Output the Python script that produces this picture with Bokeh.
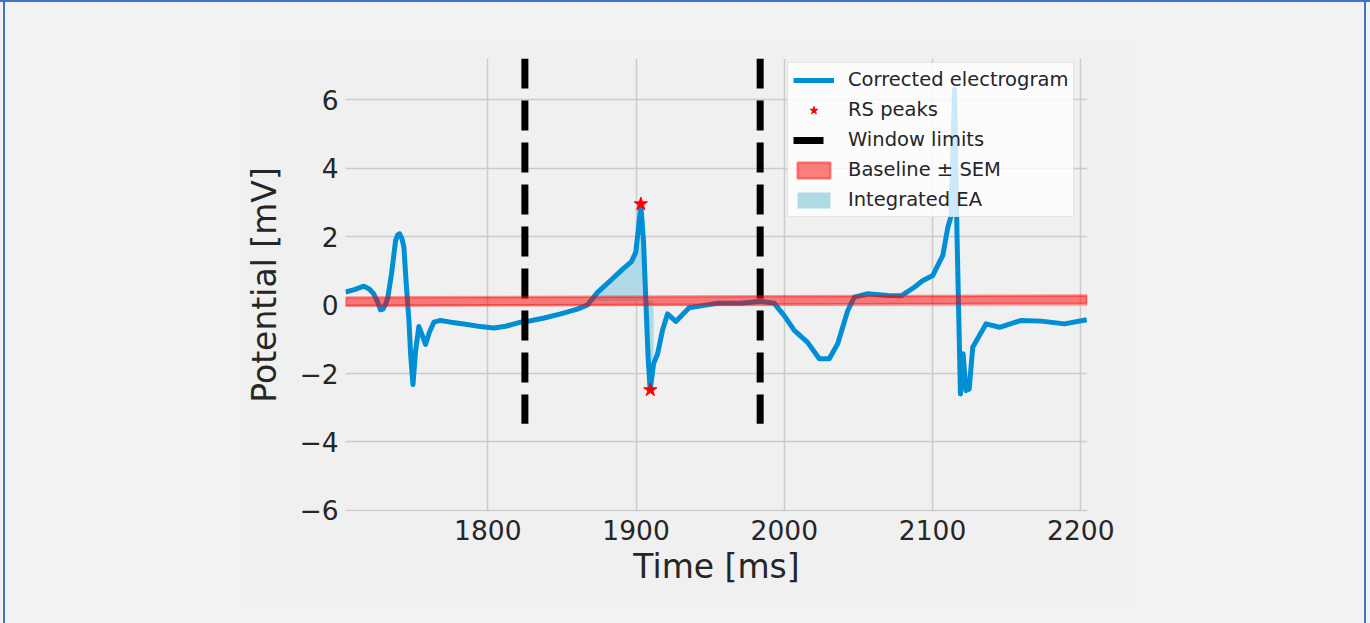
import numpy as np
from bokeh.plotting import figure
from bokeh.models import Range1d, FixedTicker, Legend, LegendItem
from bokeh.embed import file_html
from bokeh.resources import INLINE

# ---- data ----
time_ms = [1704, 1710, 1716.4, 1720, 1723, 1725.5, 1727.6, 1729.2, 1730.8, 1732.5,
           1735, 1737.8, 1739.2, 1740.5, 1742, 1743.4, 1745, 1746.8, 1747.9, 1749.5,
           1751.3, 1753.5, 1755.5, 1758, 1760.5, 1763.6, 1768.1, 1775, 1786.2, 1795,
           1804.1, 1812, 1822.2, 1828.9, 1838, 1849.2, 1860.4, 1867.2, 1874, 1882.9,
           1890.8, 1896.9, 1899.8, 1901.4, 1903.2, 1905, 1906.6, 1908.1, 1909.5, 1911.8,
           1914.5, 1917.8, 1921.2, 1926.8, 1935.8, 1946, 1955, 1970.7, 1984.2, 1993.2,
           1999.9, 2006.7, 2015.7, 2023.6, 2030.3, 2036, 2042.8, 2047.2, 2056.3, 2069.8,
           2078.8, 2087.7, 2093, 2100.1, 2106.9, 2110.3, 2112.5, 2114.8, 2116.5, 2118.8,
           2120.6, 2122.5, 2124.7, 2127.1, 2136.1, 2145.1, 2159.8, 2173.3, 2189, 2204]
potential_mv = [0.38, 0.45, 0.55, 0.47, 0.33, 0.1, -0.14, -0.12, 0.0, 0.2,
                0.9, 1.88, 2.05, 2.08, 1.95, 1.69, 0.6, -0.45, -1.42, -2.32,
                -1.33, -0.63, -0.85, -1.15, -0.8, -0.50, -0.45, -0.50, -0.57, -0.63,
                -0.67, -0.62, -0.50, -0.46, -0.38, -0.26, -0.12, 0.0, 0.37, 0.72,
                1.04, 1.27, 1.54, 2.17, 2.91, 1.88, 0.13, -1.52, -2.48, -1.72,
                -1.43, -0.74, -0.26, -0.48, -0.08, -0.01, 0.05, 0.05, 0.11, 0.05,
                -0.31, -0.74, -1.09, -1.57, -1.57, -1.13, -0.16, 0.23, 0.33, 0.28,
                0.27, 0.52, 0.7, 0.86, 1.45, 2.27, 2.6, 6.3, 2.0, -2.6,
                -1.42, -2.5, -2.45, -1.23, -0.55, -0.65, -0.45, -0.47, -0.55, -0.43]
rs_peak_t = [1903.2, 1909.6]
rs_peak_v = [2.95, -2.48]
window_t = [1825.0, 1983.7]
window_bottom = -3.47
window_top = 7.2
baseline_t = [1704, 2204]
baseline_v = [0.10, 0.16]
baseline_sem = 0.12
ea_limits = [1867.0, 1912.0]
x_ticks = [1800, 1900, 2000, 2100, 2200]
y_ticks = [-6, -4, -2, 0, 2, 4, 6]
y_tick_labels = ["\u22126", "\u22124", "\u22122", "0", "2", "4", "6"]

FONT = "DejaVu Sans"
TXT = "#262626"

p = figure(width=1370, height=623, output_backend="svg", toolbar_location=None,
           x_range=Range1d(1704, 2204.5), y_range=Range1d(-6.03, 7.2),
           min_border_left=345, min_border_right=283, min_border_top=58,
           min_border_bottom=112,
           background_fill_color="#f0f0f0", border_fill_color="#f2f2f2",
           border_fill_alpha=0)
p.outline_line_color = None
p.styles = {
    "background": "linear-gradient(#f0f0f0, #f0f0f0) 240px 40px / 890px 567px no-repeat, #f2f2f2",
    "box-shadow": "inset 0 2px 0 #4472c4, inset 3px 0 0 #f2f2f2, inset 5px 0 0 #4472c4, "
                  "inset -4px 0 0 #f2f2f2, inset -6px 0 0 #4472c4",
}

t = np.array(time_ms, dtype=float)
v = np.array(potential_mv, dtype=float)
mask = (t >= ea_limits[0]) & (t <= ea_limits[1])
base_at = np.interp(t[mask], baseline_t, baseline_v)

r_ea = p.varea(x=t[mask], y1=v[mask], y2=base_at, fill_color="#add8e6", fill_alpha=0.95)
r_line = p.line(time_ms, potential_mv, line_color="#008fd5", line_width=5,
                line_join="round")
r_win = p.segment(x0=window_t, y0=[window_top] * 2, x1=window_t, y1=[window_bottom] * 2,
                  line_color="black", line_width=7, line_dash="30 12")
band_x = list(baseline_t) + list(baseline_t[::-1])
band_y = [b + baseline_sem for b in baseline_v] + [b - baseline_sem for b in baseline_v[::-1]]
r_band = p.patch(band_x, band_y, fill_color="red", fill_alpha=0.5,
                 line_color="red", line_alpha=0.4, line_width=2.5)
r_rs = p.scatter(rs_peak_t, rs_peak_v, marker="star", size=14, color="red")

# axes
p.xaxis.ticker = FixedTicker(ticks=x_ticks)
p.yaxis.ticker = FixedTicker(ticks=y_ticks)
p.yaxis.major_label_overrides = {tv: tl for tv, tl in zip(y_ticks, y_tick_labels)}
for ax in (p.xaxis[0], p.yaxis[0]):
    ax.axis_line_color = None
    ax.major_tick_line_color = None
    ax.minor_tick_line_color = None
    ax.major_tick_in = 0
    ax.major_tick_out = 0
    ax.minor_tick_in = 0
    ax.minor_tick_out = 0
    ax.major_label_text_font = FONT
    ax.major_label_text_font_size = "26.5px"
    ax.major_label_text_color = TXT
    ax.axis_label_text_font = FONT
    ax.axis_label_text_font_size = "33px"
    ax.axis_label_text_font_style = "normal"
    ax.axis_label_text_color = TXT
p.xaxis.axis_label = "Time [ms]"
p.yaxis.axis_label = "Potential [mV]"
p.xaxis.major_label_standoff = 8
p.yaxis.major_label_standoff = 7
p.xaxis.axis_label_standoff = 4
p.yaxis.axis_label_standoff = 12

p.grid.grid_line_color = "#cbcbcb"
p.grid.grid_line_width = 1.5

legend = Legend(items=[
    LegendItem(label="Corrected electrogram", renderers=[r_line]),
    LegendItem(label="RS peaks", renderers=[r_rs]),
    LegendItem(label="Window limits", renderers=[r_win]),
    LegendItem(label="Baseline \u00b1 SEM", renderers=[r_band]),
    LegendItem(label="Integrated EA", renderers=[r_ea]),
], location=(442, 294))
legend.margin = 0
legend.padding = 5
legend.spacing = 7
legend.glyph_width = 41
legend.glyph_height = 20
legend.label_height = 20
legend.label_standoff = 14
legend.label_text_font = FONT
legend.label_text_font_size = "19.5px"
legend.label_text_color = TXT
legend.background_fill_color = "white"
legend.background_fill_alpha = 0.8
legend.border_line_color = "#cccccc"
legend.border_line_width = 1
p.add_layout(legend)

open("out.html", "w").write(file_html(p, INLINE))
